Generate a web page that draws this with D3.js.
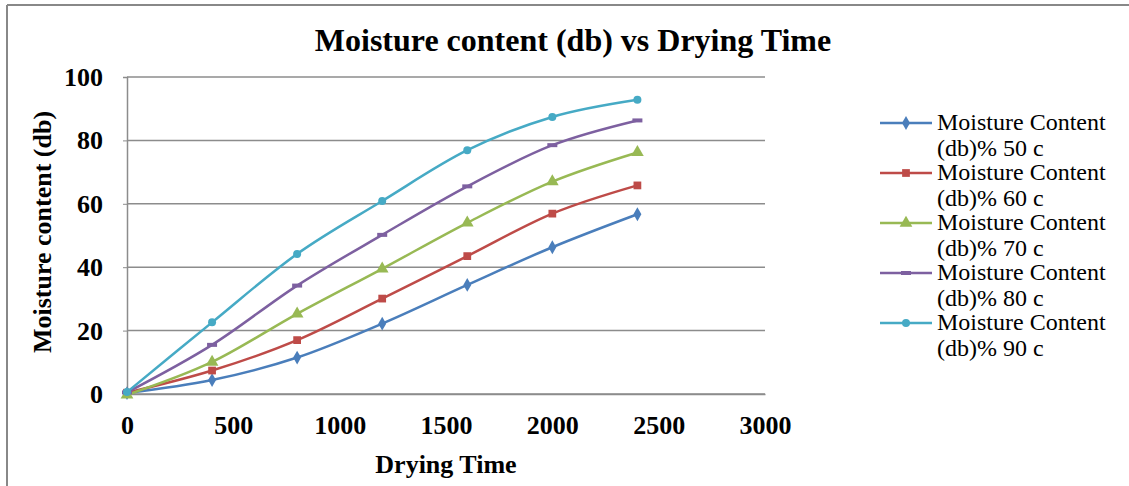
<!DOCTYPE html>
<html>
<head>
<meta charset="utf-8">
<script src="https://cdn.jsdelivr.net/npm/d3@7"></script>
<style>
  html, body { margin: 0; padding: 0; background: #fff; }
  svg { display: block; }
  text { font-family: "Liberation Serif", "Times New Roman", serif; fill: #000; }
</style>
</head>
<body>
<script>
const dryingTime = [0, 400, 800, 1200, 1600, 2000, 2400];
const mc50 = [0.3, 4.4, 11.5, 22.2, 34.4, 46.3, 56.7];
const mc60 = [0.4, 7.4, 17.0, 30.1, 43.5, 56.9, 65.8];
const mc70 = [-0.3, 10.1, 25.3, 39.5, 54.0, 67.0, 76.2];
const mc80 = [0.5, 15.5, 34.2, 50.2, 65.5, 78.5, 86.3];
const mc90 = [0.6, 22.6, 44.2, 60.9, 76.9, 87.4, 92.8];
const seriesNames = ["Moisture Content (db)% 50 c", "Moisture Content (db)% 60 c", "Moisture Content (db)% 70 c", "Moisture Content (db)% 80 c", "Moisture Content (db)% 90 c"];
const seriesValues = [mc50, mc60, mc70, mc80, mc90];
const seriesColors = ["#4a7ebb", "#be4b48", "#98b954", "#7d60a0", "#46aac5"];
const seriesSymbols = ["diamond", "square", "triangle", "dash", "circle"];
const xTicks = [0, 500, 1000, 1500, 2000, 2500, 3000];
const yTicks = [0, 20, 40, 60, 80, 100];

const W = 1129, H = 486;
const svg = d3.select("body").append("svg").attr("width", W).attr("height", H);

// outer chart border (left and top visible)
svg.append("line").attr("x1", 7).attr("x2", 7).attr("y1", 5).attr("y2", H).attr("stroke", "#888").attr("stroke-width", 2);
svg.append("line").attr("x1", 7).attr("x2", W).attr("y1", 5).attr("y2", 5).attr("stroke", "#888").attr("stroke-width", 2);

const x = d3.scaleLinear().domain([0, 3000]).range([127, 765]);
const y = d3.scaleLinear().domain([0, 100]).range([394, 77]);

// gridlines
svg.append("g").selectAll("line").data(yTicks).join("line")
  .attr("x1", x(0)).attr("x2", x(3000))
  .attr("y1", d => y(d)).attr("y2", d => y(d))
  .attr("stroke", "#8c8c8c").attr("stroke-width", 1.5);

// y axis
const yAxis = svg.append("g").attr("transform", `translate(${x(0)},0)`)
  .call(d3.axisLeft(y).tickValues(yTicks).tickSize(4).tickPadding(20).tickFormat(d3.format("d")));
yAxis.select(".domain").attr("stroke", "#8c8c8c").attr("stroke-width", 1.5);
yAxis.selectAll(".tick line").attr("stroke", "#8c8c8c");
yAxis.selectAll("text").attr("font-size", 26).attr("font-weight", "bold")
  .attr("font-family", "'Liberation Serif', serif").attr("fill", "#000").attr("dy", "0.33em");

// x axis
const xAxis = svg.append("g").attr("transform", `translate(0,${y(0)})`)
  .call(d3.axisBottom(x).tickValues(xTicks).tickSize(0).tickPadding(0).tickFormat(d3.format("d")));
xAxis.select(".domain").attr("stroke", "#8c8c8c").attr("stroke-width", 1.5);
xAxis.selectAll("text").attr("font-size", 26).attr("font-weight", "bold")
  .attr("font-family", "'Liberation Serif', serif").attr("fill", "#000")
  .attr("y", 40).attr("dy", null);

// titles
svg.append("text").attr("x", 573).attr("y", 51).attr("text-anchor", "middle")
  .attr("font-size", 32).attr("font-weight", "bold").text("Moisture content (db) vs Drying Time");
svg.append("text").attr("x", 446).attr("y", 473).attr("text-anchor", "middle")
  .attr("font-size", 26).attr("font-weight", "bold").text("Drying Time");
svg.append("text").attr("transform", "translate(51,232) rotate(-90)").attr("text-anchor", "middle")
  .attr("font-size", 26).attr("font-weight", "bold").text("Moisture content (db)");

const line = d3.line().x((d, i) => x(dryingTime[i])).y(d => y(d)).curve(d3.curveCardinal.tension(0));

function drawMarker(g, sym, color, cx, cy) {
  if (sym === "diamond") {
    g.append("path").attr("d", d3.symbol(d3.symbolDiamond, 55)()).attr("transform", `translate(${cx},${cy})`).attr("fill", color);
  } else if (sym === "square") {
    g.append("path").attr("d", d3.symbol(d3.symbolSquare, 60)()).attr("transform", `translate(${cx},${cy})`).attr("fill", color);
  } else if (sym === "triangle") {
    g.append("path").attr("d", d3.symbol(d3.symbolTriangle, 70)()).attr("transform", `translate(${cx},${cy})`).attr("fill", color);
  } else if (sym === "dash") {
    g.append("rect").attr("x", cx - 5).attr("y", cy - 2).attr("width", 10).attr("height", 4).attr("fill", color);
  } else {
    g.append("circle").attr("cx", cx).attr("cy", cy).attr("r", 4).attr("fill", color);
  }
}

seriesValues.forEach((vals, si) => {
  const g = svg.append("g");
  g.append("path").datum(vals).attr("d", line).attr("fill", "none")
    .attr("stroke", seriesColors[si]).attr("stroke-width", 2.5);
  vals.forEach((v, i) => drawMarker(g, seriesSymbols[si], seriesColors[si], x(dryingTime[i]), y(v)));
});

// legend
seriesNames.forEach((name, si) => {
  const ly = 123 + si * 50;
  const g = svg.append("g");
  g.append("line").attr("x1", 880).attr("x2", 932).attr("y1", ly).attr("y2", ly)
    .attr("stroke", seriesColors[si]).attr("stroke-width", 2.5);
  drawMarker(g, seriesSymbols[si], seriesColors[si], 906, ly);
  const parts = name.split(" (");
  g.append("text").attr("x", 937).attr("y", ly + 7).attr("font-size", 24).text(parts[0]);
  g.append("text").attr("x", 937).attr("y", ly + 33).attr("font-size", 24).text("(" + parts[1]);
});
</script>
</body>
</html>
